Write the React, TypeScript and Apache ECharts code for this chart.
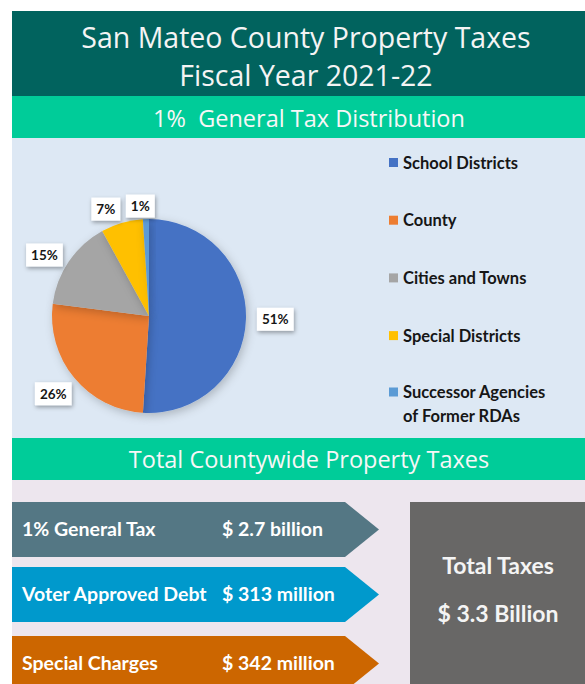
import React, { useEffect, useRef } from "react";
import * as echarts from "echarts";

// ---- data ----
const titleLines = ["San Mateo County Property Taxes", "Fiscal Year 2021-22"];
const sectionTitles = ["1%  General Tax Distribution", "Total Countywide Property Taxes"];
const categories = [
  "School Districts",
  "County",
  "Cities and Towns",
  "Special Districts",
  "Successor Agencies\nof Former RDAs",
];
const shares = [51, 26, 15, 7, 1];
const flowLabels = ["1% General Tax", "Voter Approved Debt", "Special Charges"];
const flowAmounts = ["$ 2.7 billion", "$ 313 million", "$ 342 million"];
const totalLabel = "Total Taxes";
const totalAmount = "$ 3.3 Billion";

// ---- styles ----
const sliceColors = ["#4472c4", "#ed7d31", "#a5a5a5", "#ffc000", "#5b9bd5"];
const flowColors = ["#547784", "#0099cc", "#cc6600"];
const labelNudge = [
  [0, 0],
  [7, 12],
  [4, -3],
  [5, -8],
  [14, -7],
];
const FONT = "Lato";
const HEAD_FONT = "'Open Sans'";

export default function App() {
  const ref = useRef<HTMLDivElement>(null);
  useEffect(() => {
    if (!ref.current) return;
    const chart = echarts.init(ref.current, null, { renderer: "svg" });

    const graphics: any[] = [
      { type: "rect", z: 0, shape: { x: 12, y: 11, width: 573, height: 85 }, style: { fill: "#01635e" } },
      { type: "rect", z: 0, shape: { x: 12, y: 96, width: 573, height: 42 }, style: { fill: "#00cc99" } },
      { type: "rect", z: 0, shape: { x: 12, y: 138, width: 573, height: 300 }, style: { fill: "#dde8f4" } },
      { type: "rect", z: 0, shape: { x: 12, y: 438, width: 573, height: 42 }, style: { fill: "#00cc99" } },
      { type: "rect", z: 0, shape: { x: 12, y: 480, width: 573, height: 204 }, style: { fill: "#ede6ee" } },
      {
        type: "text", z: 10, x: 306, y: 37,
        style: { text: titleLines[0], fill: "#f4f4f4", fontSize: 28.5, fontFamily: HEAD_FONT, align: "center", verticalAlign: "middle" },
      },
      {
        type: "text", z: 10, x: 306, y: 75,
        style: { text: titleLines[1], fill: "#f4f4f4", fontSize: 28.5, fontFamily: HEAD_FONT, align: "center", verticalAlign: "middle" },
      },
      {
        type: "text", z: 10, x: 309, y: 118,
        style: { text: sectionTitles[0], fill: "#f7f7f7", fontSize: 23.5, fontFamily: HEAD_FONT, align: "center", verticalAlign: "middle" },
      },
      {
        type: "text", z: 10, x: 309, y: 459,
        style: { text: sectionTitles[1], fill: "#f7f7f7", fontSize: 23.5, fontFamily: HEAD_FONT, align: "center", verticalAlign: "middle" },
      },
      { type: "rect", z: 0, shape: { x: 410, y: 502, width: 175, height: 182 }, style: { fill: "#686766" } },
      {
        type: "text", z: 10, x: 498, y: 565,
        style: { text: totalLabel, fill: "#f4f4f4", fontSize: 23, fontWeight: "bold", fontFamily: FONT, align: "center", verticalAlign: "middle" },
      },
      {
        type: "text", z: 10, x: 498, y: 613,
        style: { text: totalAmount, fill: "#f4f4f4", fontSize: 23, fontWeight: "bold", fontFamily: FONT, align: "center", verticalAlign: "middle" },
      },
    ];

    const arrowTops = [502, 567, 636];
    flowLabels.forEach((lab, i) => {
      const y = arrowTops[i];
      const h = 55;
      graphics.push({
        type: "polygon", z: 1,
        shape: { points: [[12, y], [345, y], [379, y + h / 2], [345, y + h], [12, y + h]] },
        style: { fill: flowColors[i] },
      });
      graphics.push({
        type: "text", z: 10, x: 22, y: y + 26,
        style: { text: lab, fill: "#ffffff", fontSize: 19.5, fontWeight: "bold", fontFamily: FONT, align: "left", verticalAlign: "middle" },
      });
      graphics.push({
        type: "text", z: 10, x: 222, y: y + 26,
        style: { text: flowAmounts[i], fill: "#ffffff", fontSize: 19.5, fontWeight: "bold", fontFamily: FONT, align: "left", verticalAlign: "middle" },
      });
    });

    const legendText = { fontSize: 16.5, fontWeight: "bold", fontFamily: FONT, color: "#161616", lineHeight: 16 };

    chart.setOption({
      animation: false,
      backgroundColor: "#ffffff",
      graphic: graphics,
      legend: [
        {
          orient: "vertical",
          left: 389,
          top: 154,
          padding: 0,
          itemWidth: 9,
          itemHeight: 9,
          itemGap: 40.7,
          icon: "rect",
          selectedMode: false,
          data: categories.slice(0, 4),
          textStyle: legendText,
        },
        {
          orient: "vertical",
          left: 389,
          top: 356,
          padding: 0,
          itemWidth: 9,
          itemHeight: 9,
          icon: "rect",
          selectedMode: false,
          data: categories.slice(4),
          formatter: (n: string) => "\n" + n,
          textStyle: { ...legendText, lineHeight: 24 },
        },
      ],
      series: [
        {
          type: "pie",
          center: [149, 316],
          radius: 97,
          startAngle: 90,
          clockwise: true,
          avoidLabelOverlap: false,
          itemStyle: { shadowBlur: 10, shadowColor: "rgba(0,0,0,0.22)", shadowOffsetX: 2, shadowOffsetY: 3 },
          label: {
            show: true,
            position: "outside",
            formatter: "{c}%",
            backgroundColor: "#ffffff",
            padding: [4, 5],
            fontSize: 13.5,
            lineHeight: 15,
            fontWeight: "bold",
            fontFamily: FONT,
            color: "#161616",
            shadowColor: "rgba(0,0,0,0.35)",
            shadowBlur: 4,
            shadowOffsetX: 1,
            shadowOffsetY: 2,
          },
          labelLine: { show: false, length: 6, length2: 0 },
          labelLayout: (p: any) => ({
            x: p.labelRect.x + labelNudge[p.dataIndex][0],
            y: p.labelRect.y + labelNudge[p.dataIndex][1],
            align: "left",
            verticalAlign: "top",
          }),
          emphasis: { disabled: true },
          data: categories.map((c, i) => ({ name: c, value: shares[i], itemStyle: { color: sliceColors[i] } })),
        },
      ],
    });
    return () => chart.dispose();
  }, []);
  return <div ref={ref} style={{ position: "fixed", left: 0, top: 0, width: 585, height: 684 }} />;
}
